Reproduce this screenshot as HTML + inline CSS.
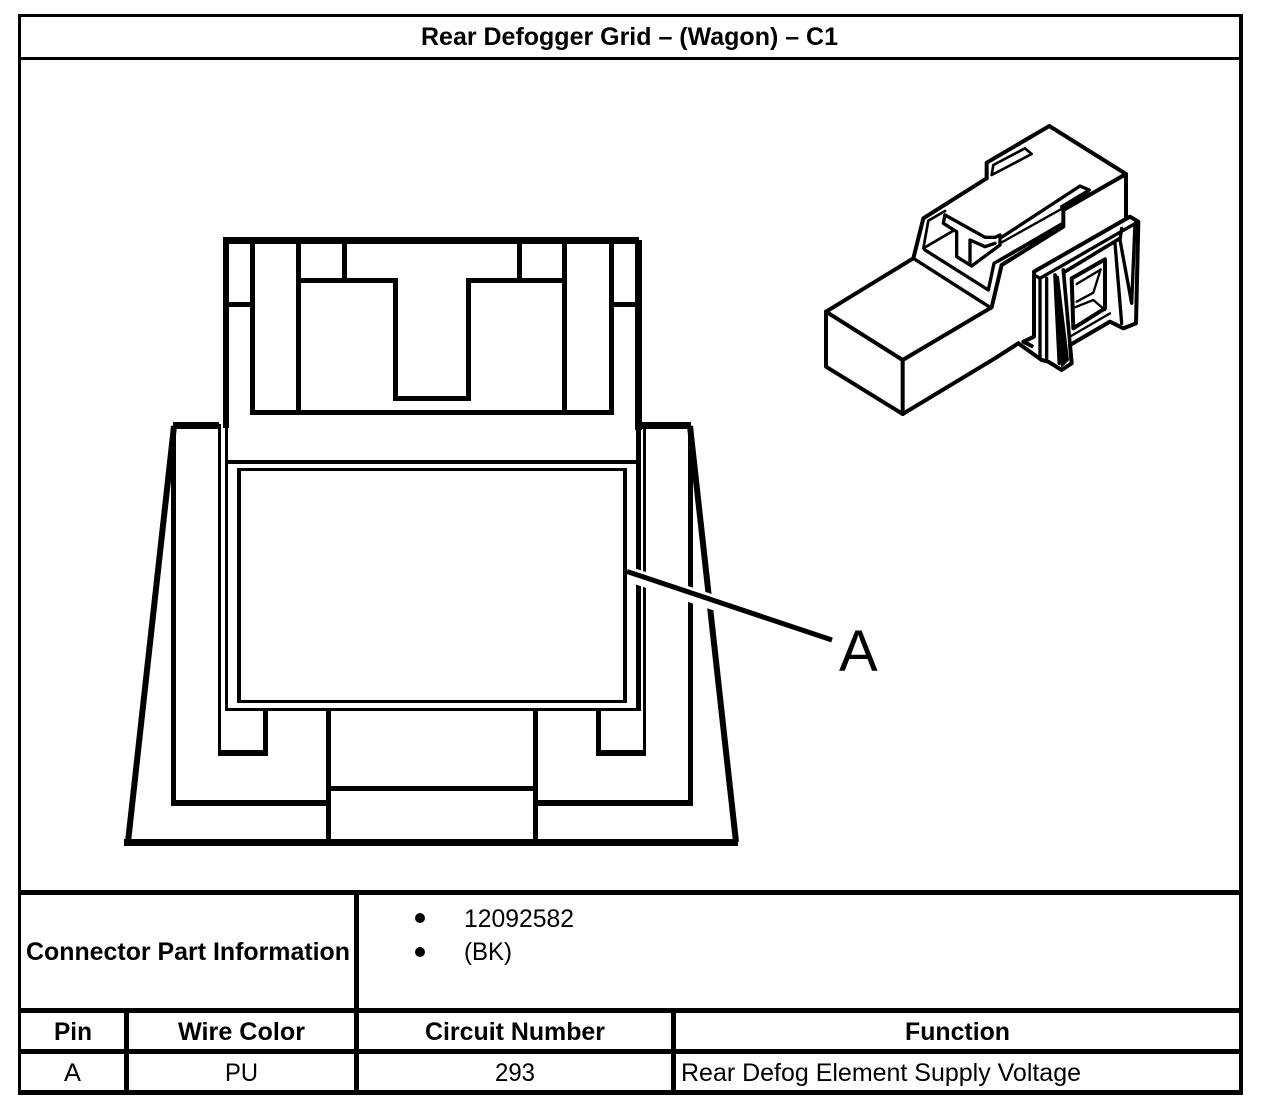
<!DOCTYPE html>
<html><head><meta charset="utf-8"><style>
html,body{margin:0;padding:0;background:#fff;width:1264px;height:1114px;overflow:hidden}
svg{display:block}
text{font-family:"Liberation Sans",sans-serif;font-size:25px;fill:#000}
.b{font-weight:bold}
</style></head><body>
<svg width="1264" height="1114" viewBox="0 0 1264 1114" xmlns="http://www.w3.org/2000/svg">
<rect width="1264" height="1114" fill="#fff"/>
<g fill="#000" shape-rendering="crispEdges">
<rect x="18" y="14" width="1225" height="3"/>
<rect x="18" y="14" width="3" height="1081"/>
<rect x="1239" y="14" width="4" height="1081"/>
<rect x="18" y="57" width="1225" height="3"/>
<rect x="18" y="890" width="1225" height="5"/>
<rect x="18" y="1008" width="1225" height="5"/>
<rect x="18" y="1049" width="1225" height="5"/>
<rect x="18" y="1090" width="1225" height="5"/>
<rect x="354" y="890" width="5" height="205"/>
<rect x="124" y="1008" width="5" height="87"/>
<rect x="671" y="1008" width="5" height="87"/>
<rect x="224" y="237" width="415" height="7"/>
<rect x="223" y="237" width="6" height="191"/>
<rect x="635" y="240" width="7" height="190"/>
<rect x="250" y="240" width="5" height="175"/>
<rect x="296" y="240" width="5" height="175"/>
<rect x="342" y="240" width="5" height="42"/>
<rect x="517" y="240" width="5" height="42"/>
<rect x="562" y="240" width="5" height="175"/>
<rect x="609" y="240" width="5" height="175"/>
<rect x="250" y="410" width="364" height="5"/>
<rect x="228" y="302" width="23" height="5"/>
<rect x="613" y="302" width="23" height="5"/>
<rect x="296" y="278" width="102" height="5"/>
<rect x="466" y="278" width="101" height="5"/>
<rect x="393" y="278" width="5" height="123"/>
<rect x="466" y="278" width="5" height="123"/>
<rect x="393" y="396" width="78" height="5"/>
<rect x="173" y="422" width="46" height="7"/>
<rect x="642" y="422" width="49" height="7"/>
<rect x="171" y="426" width="5" height="380"/>
<rect x="688" y="426" width="5" height="380"/>
<rect x="218" y="424" width="3" height="332"/>
<rect x="643" y="426" width="3" height="330"/>
<rect x="225" y="428" width="3" height="283"/>
<rect x="225" y="460" width="416" height="4"/>
<rect x="225" y="708" width="416" height="3"/>
<rect x="636" y="428" width="5" height="283"/>
<rect x="237" y="468" width="390" height="3"/>
<rect x="237" y="700" width="390" height="3"/>
<rect x="237" y="468" width="4" height="235"/>
<rect x="263" y="711" width="5" height="45"/>
<rect x="596" y="711" width="5" height="45"/>
<rect x="218" y="750" width="50" height="6"/>
<rect x="596" y="750" width="50" height="6"/>
<rect x="326" y="711" width="5" height="132"/>
<rect x="533" y="711" width="5" height="132"/>
<rect x="330" y="786" width="204" height="5"/>
<rect x="172" y="800" width="157" height="6"/>
<rect x="536" y="800" width="157" height="6"/>
<rect x="124" y="839" width="614" height="7"/>
</g>
<path d="M174 426L128 842M690 426L736 842" fill="none" stroke="#000" stroke-width="6"/>
<path d="M631 575L832 642" fill="none" stroke="#fff" stroke-width="15"/>
<rect x="623" y="468" width="4" height="235" fill="#000" shape-rendering="crispEdges"/>
<path d="M627 571.5L832 640" fill="none" stroke="#000" stroke-width="5"/>
<text x="839" y="671" style="font-size:58px">A</text>
<g transform="translate(810 110) scale(.33333)" fill="none" stroke="#000" stroke-width="12" stroke-linejoin="round" stroke-linecap="round">
<path d="M48 605L278 750L278 912L48 770Z"/>
<path d="M48 605L310 445L340 325L530 205"/>
<path d="M278 750L545 592L575 465L760 350L760 300L948 192"/>
<path d="M278 912L555 745L625 700"/>
<path d="M530 205L530 158L718 48L948 192L948 325"/>
<path d="M310 445L540 592M345 420L535 540L552 460L755 342" stroke-width="10"/>
<path d="M355 332L340 415L430 362M355 332L405 303" stroke-width="8"/>
<path d="M545 195L665 132L645 115L550 165L545 195" stroke-width="8"/>
<path d="M405 315L400 340L440 365L440 440L485 468L570 405L570 385L810 228L838 240L755 290" stroke-width="10"/>
<path d="M405 315L525 382L555 382L570 375" stroke-width="10"/>
<path d="M480 465L480 390L525 410L555 400" stroke-width="10"/>
<path d="M570 400L838 250M565 455L750 350" stroke-width="7"/>
<path d="M625 700L695 750L715 755L755 780L785 760L780 705L900 635L940 655L978 640L985 335L960 320L672 485L672 680L640 695L665 708"/>
<path d="M672 495L690 505L985 335M690 505L690 740M710 505L710 745" stroke-width="10"/>
<path d="M735 495L748 760M760 480L785 760M765 485L930 385" stroke-width="11"/>
<path d="M735 495L745 500L775 750L755 770Z" fill="#000" stroke-width="4"/>
<path d="M935 355L930 390L965 580L975 340M915 400L935 640" stroke-width="10"/>
<path d="M785 505L885 448L885 595L790 655Z" stroke-width="12"/>
<path d="M800 522L870 480M800 575L850 548L872 478M795 592L850 570L885 600" stroke-width="7"/>
<path d="M780 680L900 610" stroke-width="7"/>
<path d="M560 740L615 705" stroke-width="6"/>
</g>
<circle cx="420" cy="918" r="5" fill="#000"/>
<circle cx="420" cy="952" r="5" fill="#000"/>
<text class="b" x="421" y="45" textLength="417" lengthAdjust="spacingAndGlyphs">Rear Defogger Grid – (Wagon) – C1</text>
<text class="b" x="26" y="960" textLength="324" lengthAdjust="spacingAndGlyphs">Connector Part Information</text>
<text x="464" y="927" textLength="110" lengthAdjust="spacingAndGlyphs">12092582</text>
<text x="464" y="960" textLength="48" lengthAdjust="spacingAndGlyphs">(BK)</text>
<text class="b" x="54" y="1040" textLength="38" lengthAdjust="spacingAndGlyphs">Pin</text>
<text class="b" x="178" y="1040" textLength="127" lengthAdjust="spacingAndGlyphs">Wire Color</text>
<text class="b" x="425" y="1040" textLength="180" lengthAdjust="spacingAndGlyphs">Circuit Number</text>
<text class="b" x="905" y="1040" textLength="105" lengthAdjust="spacingAndGlyphs">Function</text>
<text x="64" y="1081" textLength="17" lengthAdjust="spacingAndGlyphs">A</text>
<text x="225" y="1081" textLength="33" lengthAdjust="spacingAndGlyphs">PU</text>
<text x="495" y="1081" textLength="40" lengthAdjust="spacingAndGlyphs">293</text>
<text x="681" y="1081" textLength="400" lengthAdjust="spacingAndGlyphs">Rear Defog Element Supply Voltage</text>
</svg>
</body></html>
